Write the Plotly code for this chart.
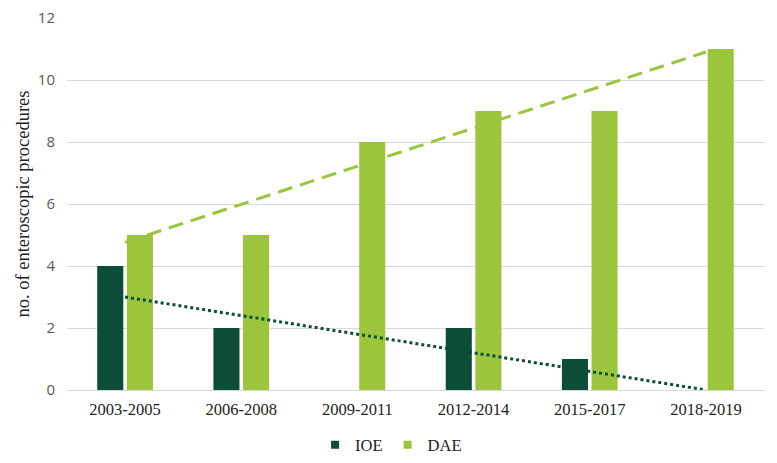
import numpy as np
import plotly.graph_objects as go

categories = ["2003-2005", "2006-2008", "2009-2011", "2012-2014", "2015-2017", "2018-2019"]
ioe = [4, 2, 0, 2, 1, 0]
dae = [5, 5, 8, 9, 9, 11]
y_ticks = [0, 2, 4, 6, 8, 10, 12]

IOE_COLOR = "#0b4d37"
DAE_COLOR = "#9bc53d"

xs = np.arange(1, len(categories) + 1)
ioe_fit = np.polyval(np.polyfit(xs, ioe, 1), xs)
dae_fit = np.polyval(np.polyfit(xs, dae, 1), xs)

serif = "Liberation Serif, Times New Roman, serif"

fig = go.Figure()
fig.add_trace(go.Bar(x=categories, y=ioe, name="IOE", showlegend=False,
                     marker=dict(color=IOE_COLOR, line=dict(width=0))))
fig.add_trace(go.Bar(x=categories, y=dae, name="DAE", showlegend=False,
                     marker=dict(color=DAE_COLOR, line=dict(width=0))))
fig.add_trace(go.Scatter(x=categories, y=ioe_fit, mode="lines", showlegend=False, hoverinfo="skip",
                         line=dict(color=IOE_COLOR, width=3, dash="dot")))
fig.add_trace(go.Scatter(x=categories, y=dae_fit, mode="lines", showlegend=False, hoverinfo="skip",
                         line=dict(color=DAE_COLOR, width=3, dash="15px,8px")))
# legend entries (small squares like the reference)
for name, color in [("IOE", IOE_COLOR), ("DAE", DAE_COLOR)]:
    fig.add_trace(go.Scatter(x=[None], y=[None], mode="markers", name=name,
                             marker=dict(symbol="square", size=8, color=color)))

# page body has an 8px default margin, so margins are shifted by 8px
fig.update_layout(
    width=777, height=463,
    margin=dict(l=59, r=21, t=10, b=81, autoexpand=False),
    plot_bgcolor="white", paper_bgcolor="white",
    barmode="group", bargap=0.49, bargroupgap=0.12,
    legend=dict(orientation="h", x=0.465, xanchor="center", y=-0.148, yanchor="middle",
                font=dict(family=serif, size=16.5, color="#222"), itemwidth=30,
                traceorder="normal"),
    showlegend=True,
)
fig.update_xaxes(
    showgrid=False, showline=True, linecolor="#d9d9d9", linewidth=1, automargin=False,
    tickfont=dict(family=serif, size=16.5, color="#222"), ticks="", ticklabelstandoff=4,
)
fig.update_yaxes(
    range=[0, 12], tickvals=y_ticks, showgrid=True, gridcolor="#d9d9d9", gridwidth=1,
    zeroline=False, showline=False, ticks="", ticklabelstandoff=11, automargin=False,
    ticklabeloverflow="allow",
    tickfont=dict(family="Open Sans, Liberation Sans, sans-serif", size=15, color="#595959"),
    title=dict(text="no. of enteroscopic procedures", font=dict(family=serif, size=18.5, color="#222"), standoff=3),
)

fig.write_html("out.html")
